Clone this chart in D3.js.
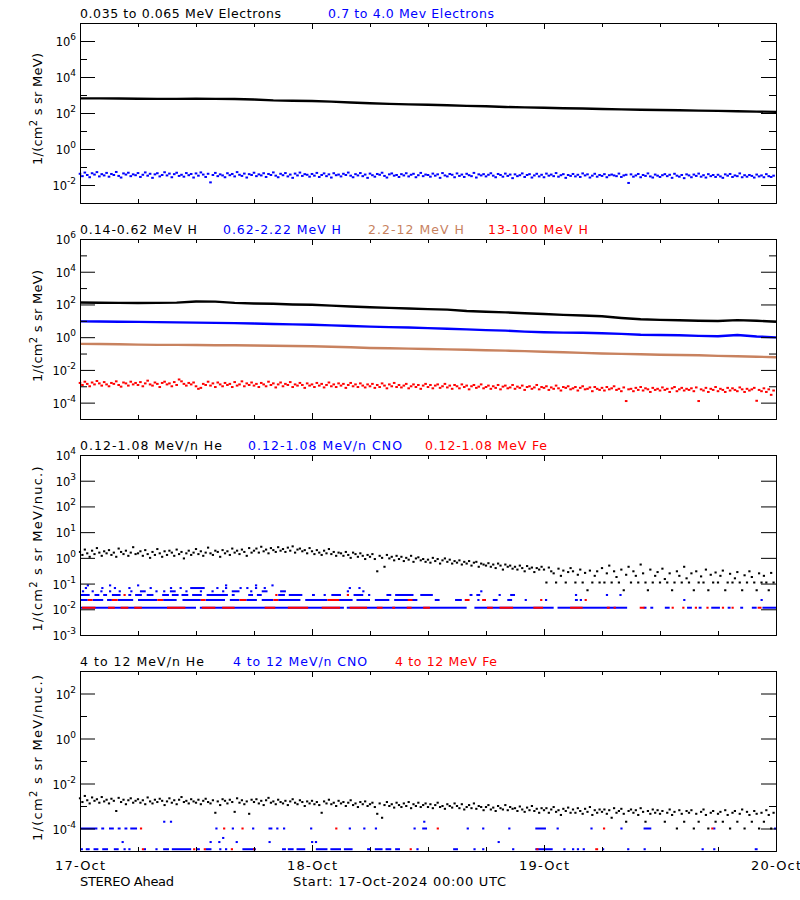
<!DOCTYPE html>
<html><head><meta charset="utf-8">
<script src="https://cdn.jsdelivr.net/npm/d3@7"></script>
<style>
body{margin:0;background:#fff;}
svg{display:block;font-family:"DejaVu Sans",sans-serif;}
</style></head><body>
<svg id="chart" width="800" height="900"></svg>
<script>
// ---------------- DATA ----------------
const startLabel = "Start: 17-Oct-2024 00:00 UTC";
const spacecraft = "STEREO Ahead";
const dayLabels = ["17-Oct","18-Oct","19-Oct","20-Oct"];
const dayHours = [0,24,48,72];
const sixHourTicks = [0,6,12,18,24,30,36,42,48,54,60,66,72];
const smoothStepH = 2;      // hours between samples of the smooth series
const noisyStepH = 0.25;    // hours between samples of the noisy series

// Panel 1: electrons
const elecLo = [650,650,640,620,610,610,615,610,600,560,500,480,460,430,380,350,320,300,290,270,250,235,215,205,195,185,178,168,160,152,147,142,135,132,125,120,115];
const elecHi = [
0.042,0.031,0.049,0.036,0.027,0.045,0.038,0.052,0.030,0.040,0.034,0.047,
0.029,0.041,0.036,0.053,0.032,0.026,0.044,0.038,0.048,0.031,0.039,0.035,
0.046,0.028,0.037,0.050,0.033,0.042,0.025,0.039,0.045,0.030,0.036,0.051,
0.034,0.043,0.027,0.040,0.048,0.032,0.037,0.029,0.046,0.035,0.041,0.026,
0.044,0.033,0.050,0.038,0.028,0.042,0.014,0.036,0.047,0.031,0.039,0.034,
0.027,0.045,0.035,0.041,0.030,0.052,0.037,0.032,0.043,0.026,0.040,0.036,
0.048,0.031,0.039,0.034,0.045,0.028,0.041,0.036,0.050,0.033,0.027,0.042,
0.035,0.046,0.030,0.038,0.025,0.043,0.034,0.049,0.032,0.040,0.037,0.029,
0.041,0.033,0.047,0.028,0.036,0.044,0.031,0.039,0.026,0.045,0.035,0.038,
0.030,0.042,0.036,0.049,0.033,0.027,0.040,0.034,0.046,0.031,0.038,0.025,
0.043,0.035,0.029,0.041,0.037,0.048,0.032,0.026,0.039,0.044,0.033,0.036,
0.028,0.040,0.034,0.045,0.030,0.037,0.042,0.027,0.035,0.047,0.031,0.038,
0.036,0.029,0.043,0.033,0.039,0.025,0.046,0.034,0.030,0.041,0.037,0.027,
0.044,0.032,0.038,0.028,0.042,0.035,0.031,0.047,0.026,0.039,0.034,0.040,
0.030,0.037,0.045,0.033,0.027,0.041,0.036,0.029,0.043,0.032,0.038,0.024,
0.039,0.031,0.035,0.044,0.028,0.036,0.040,0.026,0.034,0.042,0.030,0.037,
0.027,0.043,0.033,0.038,0.031,0.046,0.029,0.035,0.040,0.025,0.036,0.032,
0.041,0.030,0.037,0.028,0.044,0.034,0.039,0.026,0.033,0.042,0.029,0.036,
0.032,0.040,0.027,0.035,0.038,0.034,0.031,0.043,0.028,0.034,0.037,0.013,
0.039,0.029,0.034,0.041,0.027,0.036,0.032,0.044,0.030,0.026,0.038,0.033,
0.028,0.035,0.040,0.031,0.037,0.025,0.042,0.033,0.029,0.036,0.024,0.039,
0.034,0.027,0.038,0.032,0.043,0.029,0.035,0.026,0.040,0.031,0.036,0.028,
0.037,0.030,0.025,0.039,0.033,0.041,0.028,0.034,0.031,0.044,0.027,0.035,
0.029,0.036,0.032,0.026,0.038,0.030,0.034,0.027,0.040,0.031,0.028,0.033];

// Panel 2: protons
const hLo = [132,128,125,122,125,130,150,148,125,115,110,100,95,85,75,68,62,57,52,48,40,36,33,29,26,23,21,19,15,12.5,11.5,10.8,10,9.8,11,10,8.8];
const hMid = [9.2,9.0,8.8,8.6,8.3,8.0,7.8,7.5,7.2,6.8,6.4,6.1,5.8,5.3,4.8,4.4,4.1,3.9,3.6,3.3,3.0,2.7,2.5,2.2,2.0,1.9,1.85,1.75,1.6,1.4,1.35,1.3,1.2,1.15,1.35,1.1,0.98];
const hHi = [0.39,0.38,0.37,0.35,0.34,0.34,0.33,0.32,0.32,0.31,0.30,0.29,0.28,0.26,0.24,0.22,0.21,0.20,0.19,0.18,0.17,0.16,0.15,0.14,0.13,0.12,0.11,0.10,0.095,0.09,0.085,0.082,0.078,0.072,0.068,0.064,0.06];
const hVHi = [
1.6e-3,1.2e-3,1.9e-3,1.4e-3,1.0e-3,1.7e-3,1.3e-3,2.1e-3,1.5e-3,1.1e-3,1.8e-3,1.3e-3,
1.0e-3,1.6e-3,1.4e-3,2.0e-3,1.2e-3,9.5e-4,1.7e-3,1.5e-3,1.1e-3,1.9e-3,1.3e-3,1.6e-3,
1.2e-3,1.8e-3,1.0e-3,1.5e-3,2.2e-3,1.3e-3,1.1e-3,1.7e-3,1.4e-3,9e-4,1.6e-3,1.9e-3,
1.3e-3,1.5e-3,1.0e-3,1.8e-3,1.2e-3,2.6e-3,2.0e-3,1.4e-3,1.1e-3,1.6e-3,1.3e-3,1.7e-3,
1.0e-3,7e-4,8e-4,1.4e-3,1.2e-3,1.9e-3,1.1e-3,1.5e-3,9e-4,1.7e-3,1.3e-3,1.0e-3,
1.6e-3,1.2e-3,1.4e-3,9e-4,1.8e-3,1.1e-3,1.3e-3,2.0e-3,1.0e-3,1.5e-3,1.2e-3,1.7e-3,
1.1e-3,1.4e-3,9e-4,1.6e-3,1.3e-3,1.0e-3,1.9e-3,1.2e-3,1.5e-3,8.5e-4,1.3e-3,1.7e-3,
1.0e-3,1.4e-3,1.2e-3,1.8e-3,9e-4,1.3e-3,1.1e-3,1.6e-3,1.2e-3,8e-4,1.5e-3,1.1e-3,
1.3e-3,9e-4,1.6e-3,1.1e-3,1.4e-3,8.5e-4,1.2e-3,1.7e-3,1.0e-3,1.3e-3,9e-4,1.5e-3,
1.1e-3,1.4e-3,8e-4,1.2e-3,1.6e-3,1.0e-3,1.3e-3,9e-4,1.5e-3,1.1e-3,8.5e-4,1.3e-3,
1.0e-3,1.4e-3,8e-4,1.2e-3,9e-4,1.5e-3,1.1e-3,7.5e-4,1.3e-3,1.0e-3,1.6e-3,9e-4,
1.2e-3,8.5e-4,1.1e-3,1.4e-3,7.5e-4,1.0e-3,1.3e-3,9e-4,1.2e-3,7e-4,1.1e-3,1.4e-3,
9e-4,1.2e-3,7.5e-4,1.1e-3,1.3e-3,8e-4,1.0e-3,1.4e-3,8.5e-4,1.1e-3,7e-4,1.2e-3,
1.0e-3,7.5e-4,1.3e-3,9e-4,1.1e-3,6.5e-4,1.0e-3,1.2e-3,8e-4,9.5e-4,1.3e-3,7.5e-4,
9e-4,1.1e-3,7e-4,1.0e-3,8e-4,1.2e-3,6.5e-4,9.5e-4,1.1e-3,7.5e-4,8.5e-4,1.2e-3,
7e-4,9.5e-4,8e-4,1.1e-3,6e-4,9e-4,1.0e-3,7e-4,8.5e-4,1.2e-3,6.5e-4,9e-4,
8e-4,1.0e-3,6e-4,8.5e-4,7e-4,1.1e-3,7.5e-4,5.5e-4,9e-4,8e-4,1.0e-3,6.5e-4,
7.5e-4,9e-4,5.5e-4,8e-4,1.0e-3,6.5e-4,7e-4,8.5e-4,5e-4,9e-4,7e-4,6e-4,
8e-4,5.5e-4,9e-4,6.5e-4,7.5e-4,1.0e-3,6e-4,7e-4,5e-4,8.5e-4,1.25e-4,6.5e-4,
7e-4,5e-4,8e-4,6e-4,9e-4,5.5e-4,7.5e-4,6.5e-4,4.5e-4,8e-4,6e-4,7e-4,
5.5e-4,8.5e-4,6e-4,7e-4,4.5e-4,7.5e-4,9e-4,5e-4,6.5e-4,8e-4,5.5e-4,7e-4,
6e-4,7.5e-4,5e-4,8.5e-4,1.25e-4,6.5e-4,5.5e-4,8e-4,4.5e-4,7e-4,6e-4,9e-4,
5e-4,7e-4,6e-4,4.5e-4,8e-4,5.5e-4,7.5e-4,6e-4,5e-4,8.5e-4,6.5e-4,4.5e-4,
7e-4,5.5e-4,6.5e-4,8e-4,1.3e-4,6e-4,5e-4,7.5e-4,4.5e-4,6.5e-4,3e-4,5.5e-4];

// Panel 3: 0.12-1.08 MeV/n ions
const he3 = [
1.7,1.3,2.1,1.5,1.1,1.9,1.4,2.4,1.6,1.2,1.8,1.5,
2.0,1.3,1.6,1.1,2.3,1.7,1.4,1.9,1.2,1.6,2.6,1.4,
1.5,1.8,1.2,2.0,1.4,1.0,1.7,1.3,2.2,1.5,1.1,1.8,
1.3,1.9,1.6,1.2,2.1,1.4,1.7,0.95,1.5,1.9,1.3,1.6,
2.2,1.4,1.8,1.2,1.6,2.5,1.5,1.3,1.9,1.7,1.1,2.0,
1.5,1.8,1.3,2.3,1.6,1.9,1.4,2.1,1.7,1.2,2.4,1.6,
1.9,2.3,1.6,2.7,1.8,2.1,1.5,2.4,2.0,1.7,2.6,1.9,
2.2,1.7,2.5,1.9,2.8,1.6,2.1,2.3,1.8,2.0,1.5,2.4,
1.8,1.4,2.0,1.6,1.3,1.9,1.5,2.2,1.4,1.7,1.2,1.6,
1.5,1.2,1.7,1.3,1.0,1.6,1.4,1.1,1.5,1.2,0.9,1.3,
1.1,1.4,0.9,0.3,1.2,1.0,0.45,1.3,0.95,1.1,0.8,1.2,
0.9,1.1,0.75,1.0,0.85,1.2,0.7,0.95,1.05,0.8,0.9,0.7,
0.85,0.65,1.0,0.75,0.9,0.6,0.8,0.95,0.7,0.85,0.6,0.75,
0.65,0.8,0.55,0.7,0.6,0.75,0.5,0.65,0.7,0.45,0.6,0.55,
0.5,0.62,0.45,0.55,0.4,0.6,0.5,0.35,0.55,0.45,0.5,0.38,
0.45,0.35,0.5,0.4,0.3,0.48,0.38,0.42,0.28,0.4,0.35,0.45,
0.35,0.11,0.42,0.3,0.25,0.11,0.38,0.2,0.32,0.11,0.28,0.4,
0.3,0.11,0.22,0.35,0.11,0.26,0.055,0.32,0.11,0.2,0.3,0.11,
0.4,0.11,0.25,0.5,0.11,0.3,0.18,0.11,0.35,0.055,0.22,0.45,
0.11,0.3,0.2,0.11,0.55,0.25,0.11,0.055,0.35,0.11,0.2,0.28,
0.11,0.38,0.15,0.11,0.25,0.055,0.11,0.3,0.2,0.11,0.45,0.16,
0.11,0.25,0.055,0.3,0.11,0.19,0.11,0.35,0.055,0.22,0.11,0.27,
0.11,0.2,0.32,0.055,0.11,0.24,0.11,0.16,0.28,0.11,0.055,0.21,
0.11,0.3,0.18,0.11,0.055,0.25,0.11,0.2,0.11,0.055,0.26,0.11];
// [value, startHour, endHour] runs of count-quantised points
const cno3Runs = [
[0.0115,0,12],[0.0115,12.4,27.3],[0.0115,27.6,40],[0.0115,40.8,49],[0.0115,49.4,56.6],[0.0115,58.3,58.6],[0.0115,59,59.3],[0.0115,60.5,61],[0.0115,62.8,63.3],[0.0115,64,64.3],[0.0115,65.3,66.2],[0.0115,67,67.3],[0.0115,68.3,68.6],[0.0115,69.5,70],[0.0115,70.6,72],
[0.023,0,0.8],[0.023,1.3,2.4],[0.023,2.8,3.3],[0.023,3.9,5.5],[0.023,6,8],[0.023,8.6,10],[0.023,10.6,12.5],[0.023,13,15],[0.023,15.5,16.5],[0.023,17.2,18.3],[0.023,18.8,20],[0.023,20.5,22.8],[0.023,23.3,25.6],[0.023,26.8,28.2],[0.023,28.6,30],[0.023,30.5,32],[0.023,32.5,34.9],[0.023,36.7,37.2],[0.023,38.8,39.5],[0.023,41.1,41.3],[0.023,42.7,43.2],[0.023,44.2,44.7],[0.023,46,46.2],[0.023,48.1,48.3],[0.023,51.2,51.5],[0.023,51.7,51.9],[0.023,62.4,62.6],[0.023,70.4,70.6],
[0.036,0,1],[0.036,1.5,2],[0.036,2.4,2.8],[0.036,3.3,4.2],[0.036,5,5.3],[0.036,5.7,6.4],[0.036,6.9,7.6],[0.036,8.5,9.2],[0.036,9.5,10.2],[0.036,10.5,11.2],[0.036,11.6,12.6],[0.036,13.1,15.3],[0.036,15.7,16],[0.036,17.4,17.9],[0.036,18.3,18.8],[0.036,20.5,21.2],[0.036,21.6,23],[0.036,24,24.3],[0.036,25.2,25.4],[0.036,26,27],[0.036,28.3,29.3],[0.036,29.8,30],[0.036,31.7,32.2],[0.036,32.6,34.5],[0.036,35.2,36.5],[0.036,40.3,40.6],[0.036,41,41.4],[0.036,43.3,43.5],[0.036,44.5,45],[0.036,51.2,51.4],[0.036,54.4,54.6],[0.036,55.8,56],
[0.05,0.2,0.4],[0.05,1.2,1.4],[0.05,2.1,2.3],[0.05,3,3.2],[0.05,4,4.2],[0.05,5.2,5.4],[0.05,6.2,6.8],[0.05,7.8,8],[0.05,8.6,8.8],[0.05,9.3,9.9],[0.05,10.9,11.1],[0.05,12.4,12.6],[0.05,13.6,13.8],[0.05,14.7,14.9],[0.05,15.7,16.5],[0.05,17.6,17.8],[0.05,18.8,19.4],[0.05,20.7,21.3],[0.05,27.6,27.8],[0.05,29.2,29.4],[0.05,41.4,41.6],
[0.067,0.5,0.7],[0.067,2.2,2.4],[0.067,3.5,3.7],[0.067,5,5.2],[0.067,7.2,7.4],[0.067,9.3,9.5],[0.067,10.3,10.5],[0.067,11.4,12.9],[0.067,14.1,14.3],[0.067,15,15.2],[0.067,16.5,16.7],[0.067,17.2,17.4],[0.067,18.1,18.3],[0.067,19,19.2],[0.067,27.8,28],[0.067,28.8,29],
[0.085,0.7,0.9],[0.085,3,3.2],[0.085,5.9,6.1],[0.085,15,15.2],[0.085,18.1,18.3],[0.085,19.8,20]];
const fe3Runs = [
[0.0115,0.2,1.6],[0.0115,2.9,3.6],[0.0115,4.2,5],[0.0115,5.6,6.4],[0.0115,9,10.9],[0.0115,12.6,14],[0.0115,14.7,16],[0.0115,19.1,20.2],[0.0115,21.5,23.6],[0.0115,25,26.9],[0.0115,27.9,29.7],[0.0115,30.7,31.3],[0.0115,32.3,32.6],[0.0115,33.8,34.3],[0.0115,35.5,36.2],[0.0115,42.1,42.7],[0.0115,43.4,44.8],[0.0115,46.9,47.9],[0.0115,50.7,52],[0.0115,54.5,54.8],[0.0115,55.2,55.4],[0.0115,57.9,58.4],[0.0115,61.2,61.4],[0.0115,62.3,62.5],[0.0115,63.6,63.8],[0.0115,64.8,65],[0.0115,66.4,66.6],[0.0115,67.4,67.6],[0.0115,70.1,70.5],
[0.023,0.8,1.3],[0.023,3.3,3.9],[0.023,8,8.6],[0.023,12.5,13],[0.023,16.5,17.2],[0.023,20,20.5],[0.023,25.6,26.8],[0.023,33.9,34.4],[0.023,39.8,40.3],[0.023,41.6,42],[0.023,47.6,47.8],[0.023,52.2,52.4],
[0.036,4.5,4.7],[0.036,20.2,20.4],[0.036,27.6,27.8]];

// Panel 4: 4-12 MeV/n ions
const he4 = [
2.2e-3,1.5e-3,2.8e-3,1.8e-3,1.3e-3,2.4e-3,1.7e-3,2.0e-3,1.4e-3,2.5e-3,1.6e-3,1.9e-3,
1.3e-3,2.1e-3,1.7e-3,6e-4,2.3e-3,1.5e-3,1.9e-3,1.2e-3,1.8e-3,2.2e-3,1.4e-3,1.7e-3,
2.0e-3,1.4e-3,1.8e-3,1.2e-3,2.4e-3,1.6e-3,1.3e-3,1.9e-3,1.5e-3,2.1e-3,1.7e-3,1.1e-3,
1.6e-3,2.2e-3,1.4e-3,1.8e-3,1.2e-3,1.9e-3,2.5e-3,1.5e-3,1.7e-3,1.3e-3,2.0e-3,1.6e-3,
1.4e-3,1.9e-3,1.2e-3,1.7e-3,2.1e-3,1.5e-3,1.3e-3,1.8e-3,5e-4,1.6e-3,1.1e-3,2.0e-3,
1.7e-3,1.3e-3,1.9e-3,1.5e-3,5.5e-4,2.2e-3,1.4e-3,1.8e-3,1.2e-3,1.6e-3,4.5e-4,1.9e-3,
1.5e-3,2.0e-3,1.3e-3,1.7e-3,1.1e-3,1.8e-3,2.3e-3,1.4e-3,1.6e-3,1.2e-3,1.9e-3,1.5e-3,
1.3e-3,1.7e-3,1.1e-3,1.6e-3,2.0e-3,1.4e-3,1.2e-3,1.8e-3,1.5e-3,1.0e-3,1.6e-3,1.3e-3,
1.7e-3,1.2e-3,1.5e-3,1.1e-3,5e-4,1.6e-3,1.3e-3,1.9e-3,1.2e-3,1.4e-3,1.0e-3,1.7e-3,
1.3e-3,1.5e-3,1.0e-3,1.4e-3,1.8e-3,1.1e-3,1.3e-3,9e-4,1.5e-3,1.2e-3,1.6e-3,1.0e-3,
1.2e-3,1.4e-3,9e-4,4.5e-4,1.3e-3,3e-4,1.1e-3,1.5e-3,1.0e-3,1.2e-3,8.5e-4,1.4e-3,
1.1e-3,9e-4,1.3e-3,1.0e-3,1.5e-3,8e-4,1.2e-3,1.0e-3,1.4e-3,9e-4,1.1e-3,1.3e-3,
9e-4,1.2e-3,8e-4,1.1e-3,1.4e-3,9e-4,1.0e-3,7.5e-4,1.2e-3,1.0e-3,8.5e-4,1.3e-3,
1.0e-3,8e-4,1.2e-3,7e-4,9e-4,1.1e-3,8e-4,1.3e-3,7.5e-4,1.0e-3,9e-4,6.5e-4,
9e-4,1.1e-3,7e-4,8.5e-4,6e-4,1.0e-3,8e-4,7e-4,1.1e-3,6.5e-4,9e-4,7.5e-4,
8e-4,6e-4,9.5e-4,7e-4,5.5e-4,8.5e-4,6.5e-4,1.0e-3,6e-4,7.5e-4,5e-4,8e-4,
6.5e-4,8e-4,5e-4,7e-4,9e-4,5.5e-4,6.5e-4,4e-4,7.5e-4,6e-4,8.5e-4,5e-4,
7e-4,5e-4,8e-4,6e-4,4.5e-4,7.5e-4,5.5e-4,9e-4,4e-4,6.5e-4,5e-4,7e-4,
5.5e-4,7e-4,4.5e-4,6.5e-4,3e-4,8e-4,5e-4,6e-4,7.5e-4,4.5e-4,2e-4,6e-4,
7e-4,5e-4,6.5e-4,4e-4,8e-4,5.5e-4,2e-4,6e-4,4.5e-4,7e-4,5e-4,6.5e-4,
4.5e-4,6e-4,2e-4,5e-4,7e-4,4e-4,5.5e-4,1e-4,6.5e-4,4.5e-4,2e-4,6e-4,
5e-4,6.5e-4,1e-4,4.5e-4,2e-4,5.5e-4,7e-4,4e-4,1e-4,5e-4,6e-4,2e-4,
4.5e-4,5.5e-4,2e-4,6.5e-4,4e-4,1e-4,5e-4,6e-4,2e-4,4.5e-4,7e-4,1e-4,
5.5e-4,4e-4,2e-4,6e-4,4.5e-4,1e-4,5e-4,2e-4,6.5e-4,4e-4,1e-4,5e-4];
const cno4Runs = [
[1.2e-5,0,0.3],[1.2e-5,0.6,1],[1.2e-5,1.4,1.9],[1.2e-5,2.3,2.9],[1.2e-5,3.5,4],[1.2e-5,4.5,4.7],[1.2e-5,5,5.2],[1.2e-5,6.6,6.8],[1.2e-5,7.8,8],[1.2e-5,8.6,9.2],[1.2e-5,9.5,11.5],[1.2e-5,12,12.4],[1.2e-5,13,13.6],[1.2e-5,14.4,14.6],[1.2e-5,15,15.2],[1.2e-5,16.8,18.2],[1.2e-5,20.9,21.3],[1.2e-5,21.5,22.1],[1.2e-5,22.4,23.3],[1.2e-5,24.4,25.6],[1.2e-5,25.9,27],[1.2e-5,27.3,28.2],[1.2e-5,29.7,30],[1.2e-5,30.5,31.3],[1.2e-5,31.6,32.2],[1.2e-5,32.6,33.1],[1.2e-5,34.8,35],[1.2e-5,38.6,39.1],[1.2e-5,40.7,40.9],[1.2e-5,41.6,41.8],[1.2e-5,44.7,44.9],[1.2e-5,47.1,48.9],[1.2e-5,50,50.2],[1.2e-5,50.9,51.1],[1.2e-5,51.4,51.6],[1.2e-5,52,52.2],[1.2e-5,54,54.2],[1.2e-5,56.6,56.8],[1.2e-5,58.3,58.5],[1.2e-5,64.3,64.5],[1.2e-5,65.5,65.7],[1.2e-5,69.8,70.1],
[2.5e-5,4.3,4.5],[2.5e-5,13.4,13.6],[2.5e-5,14.3,14.5],[3.8e-5,14.7,14.9],[2.5e-5,16.1,16.3],[2.5e-5,19.5,19.7],[2.5e-5,23.9,24.1],[2.5e-5,24.3,24.5],[2.5e-5,43.2,43.4],
[1e-4,0,1.8],[1e-4,2.2,2.5],[1e-4,3,3.5],[1e-4,3.9,4.2],[1e-4,4.6,4.9],[1e-4,5.2,5.9],[1e-4,14,14.2],[1e-4,15.7,15.9],[1e-4,17.8,18],[1e-4,19.5,19.9],[1e-4,20.3,20.5],[1e-4,21,21.2],[1e-4,23.8,24],[1e-4,27.8,28],[1e-4,29.3,29.5],[1e-4,30.5,30.7],[1e-4,34.5,34.7],[1e-4,35.4,35.9],[1e-4,40,40.2],[1e-4,41.6,41.8],[1e-4,44.3,44.5],[1e-4,47.1,48.2],[1e-4,49.3,49.5],[1e-4,52.8,53],[1e-4,55.9,56.1],[1e-4,58.3,59.1],[1e-4,65.5,65.7],[1e-4,71.8,72],
[2e-4,8.6,8.8],[2e-4,9.3,9.5],[2e-4,35.5,35.7]];
const fe4Runs = [
[1.2e-5,6.4,6.6],[1.2e-5,11.7,11.9],[1.2e-5,12.8,13],[1.2e-5,15.6,15.8],[1.2e-5,17.9,18.1],[1.2e-5,34.1,34.3],[1.2e-5,47.2,47.4],[1.2e-5,53.3,53.6],
[1e-4,6.2,6.4],[1e-4,14.8,15],[1e-4,16.7,16.9],[1e-4,26.4,26.6],[1e-4,36.9,37.1],[1e-4,54.1,54.3],[1e-4,65.3,65.5]];

// ---------------- LAYOUT / STYLE ----------------
const BLACK="#000000", BLUE="#0000ff", BROWN="#c8825f", RED="#ff0000";
const X0 = 80, X1 = 776, PANEL_H = 180;
const START = Date.UTC(2024,9,17,0,0), END = Date.UTC(2024,9,20,0,0);
const hourToTime = h => START + h*3600e3;

const panels = [
 {top:23, domain:[1e-3,1e7], labelExp:[6,4,2,0,-2], majorExp:[6,4,2,0,-2], minorExp:[5,3,1,-1], unit:"MeV)", ycenter:109, ylen:112,
  titles:[["0.035 to 0.065 MeV Electrons",80,201,BLACK],["0.7 to 4.0 Mev Electrons",328,166,BLUE]],
  series:[{kind:"line",data:elecLo,color:BLACK},{kind:"dots",data:elecHi,color:BLUE,w:2.6}]},
 {top:239, domain:[1e-5,1e6], labelExp:[6,4,2,0,-2,-4], majorExp:[4,2,0,-2,-4], minorExp:[5,3,1,-1,-3], unit:"MeV)", ycenter:326, ylen:112,
  titles:[["0.14-0.62 MeV H",80,117,BLACK],["0.62-2.22 MeV H",223,118,BLUE],["2.2-12 MeV H",368,96,BROWN],["13-100 MeV H",488,100,RED]],
  series:[{kind:"line",data:hLo,color:BLACK},{kind:"line",data:hMid,color:BLUE},{kind:"line",data:hHi,color:BROWN},{kind:"dots",data:hVHi,color:RED,w:2.6}]},
 {top:455, domain:[1e-3,1e4], labelExp:[4,3,2,1,0,-1,-2,-3], majorExp:[3,2,1,0,-1,-2], minorExp:[], unit:"MeV/nuc.)", ycenter:549, ylen:165,
  titles:[["0.12-1.08 MeV/n He",80,142,BLACK],["0.12-1.08 MeV/n CNO",248,154,BLUE],["0.12-1.08 MeV Fe",425,122,RED]],
  series:[{kind:"dots",data:he3,color:BLACK,w:2.2},{kind:"runs",data:cno3Runs,color:BLUE},{kind:"runs",data:fe3Runs,color:RED}]},
 {top:671, domain:[1e-5,1e3], labelExp:[2,0,-2,-4], majorExp:[2,0,-2,-4], minorExp:[1,-1,-3], unit:"MeV/nuc.)", ycenter:758, ylen:166,
  titles:[["4 to 12 MeV/n He",80,124,BLACK],["4 to 12 MeV/n CNO",233,134,BLUE],["4 to 12 MeV Fe",395,102,RED]],
  series:[{kind:"dots",data:he4,color:BLACK,w:2.2},{kind:"runs",data:cno4Runs,color:BLUE},{kind:"runs",data:fe4Runs,color:RED}]}
];

// ---------------- DRAW ----------------
const svg = d3.select("#chart");
svg.append("rect").attr("width",800).attr("height",900).attr("fill","#fff");
const x = d3.scaleUtc().domain([START, END]).range([X0, X1]);
const pow = e => Math.pow(10, e);
const minorHours = sixHourTicks.filter(h => !dayHours.includes(h));

panels.forEach(p => {
  const y = d3.scaleLog().domain(p.domain).range([p.top + PANEL_H, p.top]);
  const g = svg.append("g");

  // data
  p.series.forEach(s => {
    if (s.kind === "line") {
      const line = d3.line().x((d,i) => x(hourToTime(i*smoothStepH))).y(d => y(d));
      g.append("path").datum(s.data).attr("d", line).attr("fill","none")
        .attr("stroke", s.color).attr("stroke-width", 2.4);
    } else if (s.kind === "dots") {
      g.append("g").selectAll("rect").data(s.data).join("rect")
        .attr("x", (d,i) => x(hourToTime(i*noisyStepH)) - s.w/2)
        .attr("y", d => y(d) - 1).attr("width", s.w).attr("height", 2)
        .attr("fill", s.color);
    } else {
      g.append("g").selectAll("rect").data(s.data).join("rect")
        .attr("x", d => x(hourToTime(d[1])))
        .attr("y", d => y(d[0]) - 1)
        .attr("width", d => Math.max(2.2, x(hourToTime(d[2])) - x(hourToTime(d[1]))))
        .attr("height", 2).attr("fill", s.color);
    }
  });

  // axes (frame + inward ticks)
  const ax = (axis, tr) => g.append("g").attr("transform", tr).call(axis).call(a => a.selectAll("text").remove());
  ax(d3.axisLeft(y).tickValues(p.majorExp.map(pow)).tickSizeInner(-15).tickSizeOuter(0), `translate(${X0},0)`);
  ax(d3.axisLeft(y).tickValues(p.minorExp.map(pow)).tickSizeInner(-7).tickSizeOuter(0), `translate(${X0},0)`);
  ax(d3.axisRight(y).tickValues(p.majorExp.map(pow)).tickSizeInner(-15).tickSizeOuter(0), `translate(${X1},0)`);
  ax(d3.axisRight(y).tickValues(p.minorExp.map(pow)).tickSizeInner(-7).tickSizeOuter(0), `translate(${X1},0)`);
  ax(d3.axisTop(x).tickValues(dayHours.map(hourToTime)).tickSizeInner(-6).tickSizeOuter(0), `translate(0,${p.top})`);
  ax(d3.axisTop(x).tickValues(minorHours.map(hourToTime)).tickSizeInner(-4).tickSizeOuter(0), `translate(0,${p.top})`);
  ax(d3.axisBottom(x).tickValues(dayHours.map(hourToTime)).tickSizeInner(-6).tickSizeOuter(0), `translate(0,${p.top+PANEL_H})`);
  ax(d3.axisBottom(x).tickValues(minorHours.map(hourToTime)).tickSizeInner(-4).tickSizeOuter(0), `translate(0,${p.top+PANEL_H})`);

  // y tick labels 10^n
  p.labelExp.forEach(e => {
    const t = g.append("text").attr("x", X0 - 4).attr("y", y(pow(e)) + 5)
      .attr("text-anchor","end").attr("font-size", 11.5).attr("fill", BLACK);
    t.append("tspan").text("10");
    t.append("tspan").attr("dy", -6).attr("font-size", 9).text(String(e));
  });

  // y title
  const yt = g.append("text").attr("transform", `translate(41.5,${p.ycenter}) rotate(-90)`)
    .attr("text-anchor","middle").attr("font-size", 13).attr("fill", BLACK)
    .attr("textLength", p.ylen).attr("lengthAdjust","spacing");
  yt.append("tspan").text("1/(cm");
  yt.append("tspan").attr("dy", -5).attr("font-size", 10).text("2");
  yt.append("tspan").attr("dy", 5).text(" s sr " + p.unit);

  // titles
  p.titles.forEach(([txt, tx, tw, col]) => {
    g.append("text").attr("x", tx).attr("y", p.top - 5).attr("font-size", 12.5)
      .attr("fill", col).attr("textLength", tw).attr("lengthAdjust","spacing").text(txt);
  });
});

// bottom labels
dayLabels.forEach((lab, i) => {
  svg.append("text").attr("x", x(hourToTime(dayHours[i]))).attr("y", 870)
    .attr("text-anchor","middle").attr("font-size", 13).attr("textLength", 50)
    .attr("lengthAdjust","spacing").text(lab);
});
svg.append("text").attr("x", 80).attr("y", 885.5).attr("font-size", 13)
  .attr("textLength", 94).attr("lengthAdjust","spacing").text(spacecraft);
svg.append("text").attr("x", 293).attr("y", 885.5).attr("font-size", 13)
  .attr("textLength", 213).attr("lengthAdjust","spacing").text(startLabel);
</script>
</body></html>
